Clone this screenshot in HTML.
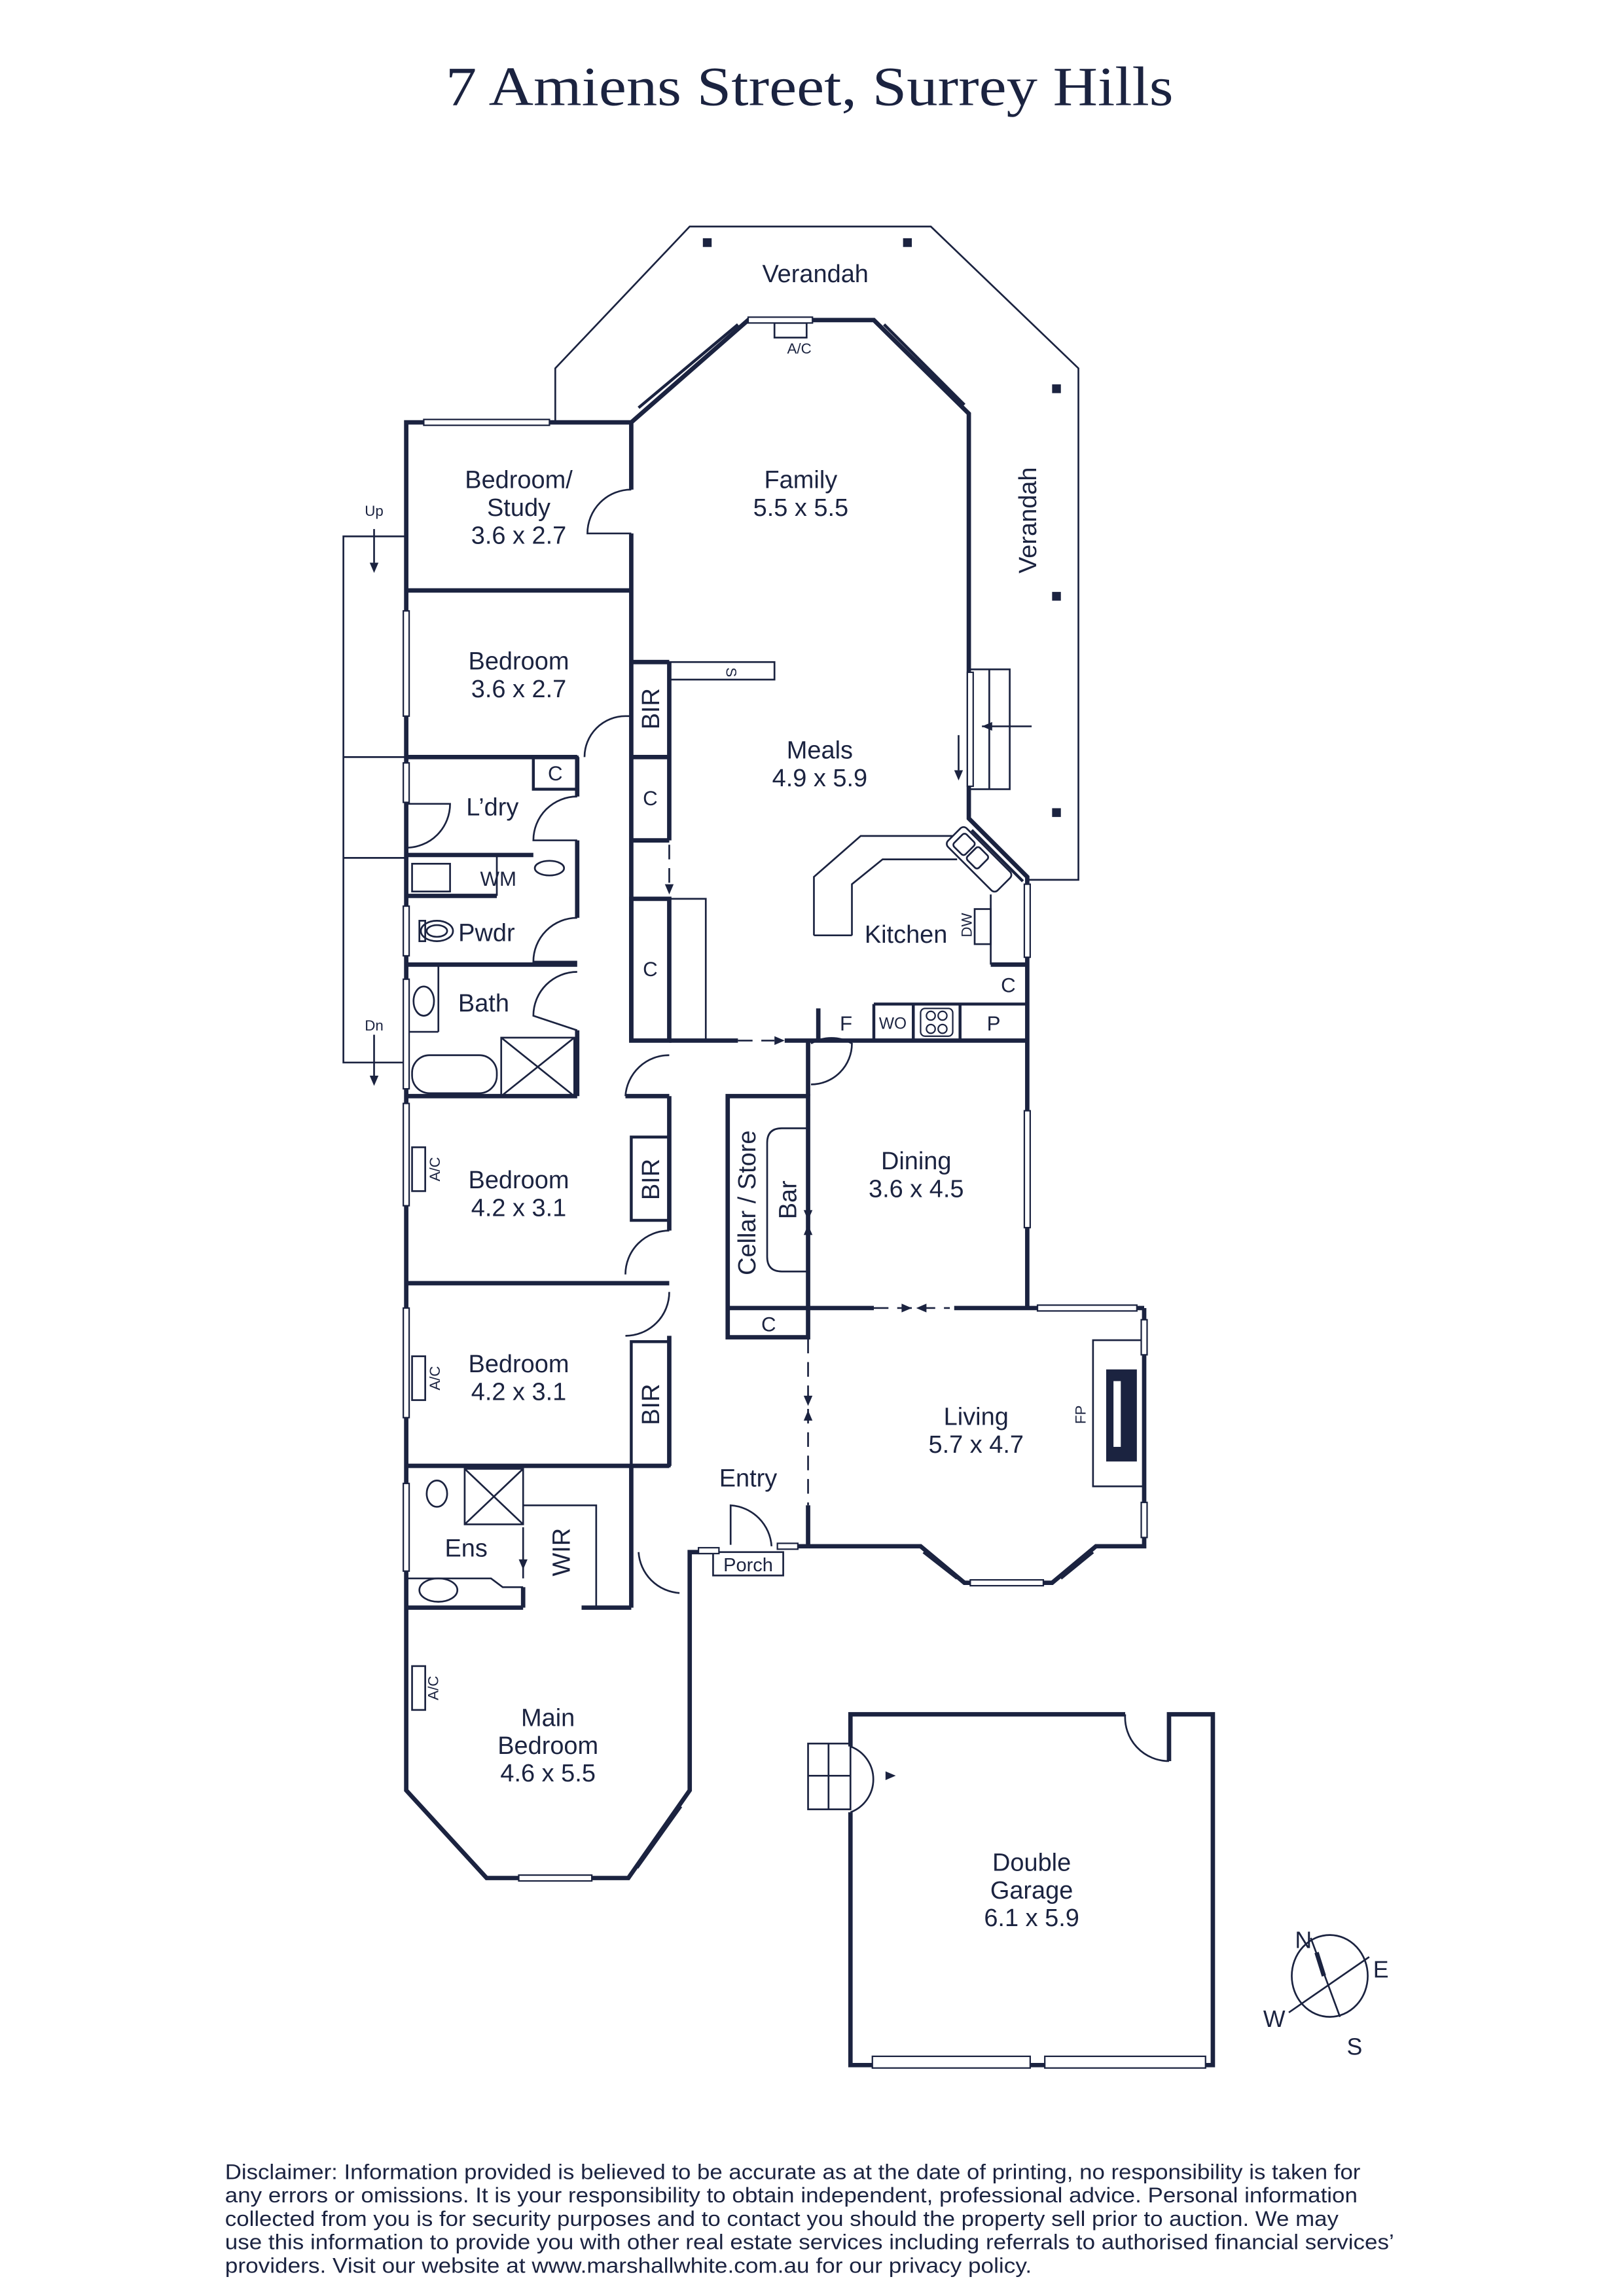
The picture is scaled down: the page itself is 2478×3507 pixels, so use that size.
<!DOCTYPE html>
<html><head><meta charset="utf-8"><style>
html,body{margin:0;padding:0;background:#fff;}
svg{display:block;}
text{font-family:"Liberation Sans",sans-serif;fill:#1b2340;}
</style></head><body>
<svg width="2478" height="3507" viewBox="0 0 1110 1571" preserveAspectRatio="none" xmlns="http://www.w3.org/2000/svg">
<rect width="1110" height="1571" fill="#fff"/>
<text x="554" y="72" font-family="Liberation Serif,serif" style="font-family:'Liberation Serif',serif" font-size="38" text-anchor="middle" textLength="498" lengthAdjust="spacingAndGlyphs">7 Amiens Street, Surrey Hills</text>

<g stroke="#1b2340" fill="none" stroke-width="1.2">
<!-- verandah -->
<polyline points="380,288 380,252 472,155 637,155 738,252 738,602 703,602"/>
<!-- stairs -->
<polyline points="278,367 235,367 235,727 278,727"/>
<line x1="235" y1="518" x2="278" y2="518"/>
<line x1="235" y1="587" x2="278" y2="587"/>
<line x1="256" y1="362" x2="256" y2="385"/>
<line x1="256" y1="708" x2="256" y2="736"/>
<!-- S -->
<rect x="458" y="453" width="72" height="12"/>
<!-- thin C side -->
<polyline points="458,615 483,615 483,712"/>
<!-- kitchen bench -->
<polyline points="557,640 557,600 589,572 660,572"/>
<polyline points="583,640 583,605 604,588 655,588"/>
<line x1="557" y1="640" x2="583" y2="640"/>
<rect x="667" y="622" width="11" height="24"/>
<line x1="678" y1="612" x2="678" y2="660"/>
<!-- verandah step by meals -->
<rect x="663" y="458" width="28" height="82"/>
<line x1="677" y1="458" x2="677" y2="540"/>
<line x1="672" y1="497" x2="706" y2="497"/>
<line x1="656" y1="503" x2="656" y2="527"/>
<!-- AC top -->
<rect x="530" y="221" width="22" height="10"/>
<!-- L'dry -->
<rect x="282" y="591" width="26" height="19"/>
<line x1="340" y1="585" x2="340" y2="613"/>
<ellipse cx="376" cy="594" rx="10" ry="5"/>
<ellipse cx="299" cy="637" rx="11" ry="7"/>
<ellipse cx="299" cy="637" rx="7" ry="4"/>
<rect x="287" y="630" width="4" height="14"/>
<ellipse cx="290" cy="685" rx="7" ry="10"/>
<line x1="300" y1="660" x2="300" y2="706"/>
<line x1="278" y1="706" x2="300" y2="706"/>
<rect x="282" y="722" width="58" height="26" rx="12"/>
<rect x="343" y="710" width="50" height="40"/>
<line x1="343" y1="710" x2="393" y2="750"/><line x1="393" y1="710" x2="343" y2="750"/>
<!-- Ens -->
<rect x="318" y="1005" width="40" height="38"/>
<line x1="318" y1="1005" x2="358" y2="1043"/><line x1="358" y1="1005" x2="318" y2="1043"/>
<ellipse cx="299" cy="1022" rx="7" ry="9"/>
<ellipse cx="300" cy="1088" rx="13" ry="8"/>
<polyline points="278,1080 336,1080 344,1086 358,1086"/>
<polyline points="358,1030 408,1030 408,1100"/>
<line x1="358" y1="1045" x2="358" y2="1080"/>
<!-- bar -->
<path d="M553,772 L535,772 Q525,772 525,782 L525,860 Q525,870 535,870 L553,870"/>
<!-- AC boxes -->
<rect x="282" y="785" width="9" height="30"/>
<rect x="282" y="928" width="9" height="30"/>
<rect x="282" y="1140" width="9" height="30"/>
<!-- FP -->
<rect x="748" y="917" width="35" height="100"/>
<!-- porch -->
<rect x="488" y="1062" width="48" height="16"/>
<!-- garage step -->
<rect x="553" y="1193" width="29" height="45"/>
<line x1="567" y1="1193" x2="567" y2="1238"/>
<line x1="553" y1="1215" x2="582" y2="1215"/>
<!-- compass -->
<ellipse cx="910" cy="1352" rx="26" ry="28"/>
<line x1="917" y1="1380" x2="897" y2="1326"/>
<line x1="882" y1="1377" x2="937" y2="1339"/>
<!-- door arcs -->
<path d="M432,335 A30,30 0 0 0 402,365 L432,365"/>
<path d="M400,518 A28,28 0 0 1 428,490 L432,490"/>
<path d="M278,580 A30,30 0 0 0 308,550 L278,550"/>
<path d="M395,545 A30,30 0 0 0 365,575 L395,575"/>
<path d="M395,628 A30,30 0 0 0 365,658 L395,658"/>
<path d="M395,665 A30,30 0 0 0 365,695 L395,705"/>
<path d="M458,722 A30,30 0 0 0 428,750"/>
<path d="M458,842 A30,30 0 0 0 428,872"/>
<path d="M458,884 A30,30 0 0 1 428,914"/>
<path d="M437,1062 A30,30 0 0 0 465,1090"/>
<path d="M500,1057 L500,1030 A30,30 0 0 1 528,1058"/>
<path d="M555,714 A28,28 0 0 1 583,714 L583,714 A28,28 0 0 1 555,742"/>
<path d="M770,1173 A30,30 0 0 0 800,1205"/>
<path d="M582,1195 A24,24 0 0 1 582,1240"/>
</g>

<g stroke="#1b2340" fill="none" stroke-width="3" stroke-linejoin="miter">
<polyline points="432,289 278,289 278,1225 333,1285 430,1285 472,1225 472,1062 488,1062"/>
<polyline points="432,289 512,219 598,219 663,283 663,560 703,600 703,895"/>
<polyline points="432,289 432,335"/><line x1="432" y1="365" x2="432" y2="712"/>
<line x1="278" y1="404" x2="432" y2="404"/>
<line x1="278" y1="518" x2="395" y2="518"/>
<line x1="458" y1="453" x2="458" y2="575"/>
<line x1="432" y1="453" x2="458" y2="453"/>
<line x1="432" y1="518" x2="458" y2="518"/>
<line x1="432" y1="575" x2="458" y2="575"/>
<rect x="365" y="518" width="30" height="22" stroke-width="2"/>
<line x1="395" y1="518" x2="395" y2="545"/>
<line x1="395" y1="575" x2="395" y2="628"/>
<line x1="395" y1="705" x2="395" y2="750"/>
<line x1="278" y1="585" x2="365" y2="585"/>
<line x1="278" y1="613" x2="340" y2="613"/>
<line x1="278" y1="660" x2="395" y2="660"/>
<rect x="432" y="615" width="26" height="97"/>
<line x1="458" y1="712" x2="505" y2="712"/>
<line x1="537" y1="712" x2="703" y2="712"/>
<line x1="560" y1="690" x2="560" y2="712"/>
<line x1="598" y1="687" x2="598" y2="712" stroke-width="2"/>
<line x1="598" y1="687" x2="703" y2="687" stroke-width="2"/>
<line x1="625" y1="687" x2="625" y2="712" stroke-width="2"/>
<line x1="657" y1="687" x2="657" y2="712" stroke-width="2"/>
<line x1="678" y1="660" x2="703" y2="660"/>
<line x1="278" y1="750" x2="395" y2="750"/>
<line x1="428" y1="750" x2="458" y2="750"/>
<line x1="458" y1="750" x2="458" y2="842"/>
<rect x="432" y="778" width="26" height="57" stroke-width="2"/>
<line x1="278" y1="878" x2="458" y2="878"/>
<line x1="458" y1="914" x2="458" y2="1003"/>
<rect x="432" y="918" width="26" height="85" stroke-width="2"/>
<line x1="278" y1="1003" x2="458" y2="1003"/>
<line x1="432" y1="1003" x2="432" y2="1100"/>
<line x1="278" y1="1100" x2="358" y2="1100"/>
<line x1="358" y1="1086" x2="358" y2="1100"/>
<line x1="398" y1="1100" x2="432" y2="1100"/>
<rect x="498" y="750" width="55" height="165"/>
<line x1="498" y1="895" x2="553" y2="895"/>
<line x1="553" y1="712" x2="553" y2="750"/>
<line x1="553" y1="1030" x2="553" y2="1058"/>
<line x1="553" y1="895" x2="598" y2="895"/>
<line x1="653" y1="895" x2="783" y2="895"/>
<polyline points="783,895 783,1058 750,1058 720,1083 660,1083 630,1058 553,1058"/>
<line x1="536" y1="1058" x2="553" y2="1058"/>
<polyline points="770,1173 582,1173 582,1195"/>
<polyline points="800,1205 800,1173 830,1173 830,1413 582,1413 582,1240"/>
</g>
<!-- FP black -->
<rect x="757" y="937" width="21" height="63" fill="#1b2340"/>
<rect x="762" y="945" width="5" height="45" fill="#fff"/>
<line x1="901" y1="1336" x2="906" y2="1352" stroke="#1b2340" stroke-width="3"/>
<!-- windows -->
<g fill="#fff" stroke="#1b2340" stroke-width="1">
<rect x="290" y="287" width="86" height="4"/>
<rect x="512" y="217" width="44" height="4"/>
<rect x="276" y="418" width="4" height="72"/>
<rect x="276" y="522" width="4" height="27"/>
<rect x="276" y="620" width="4" height="34"/>
<rect x="276" y="670" width="4" height="75"/>
<rect x="276" y="755" width="4" height="70"/>
<rect x="276" y="895" width="4" height="75"/>
<rect x="276" y="1015" width="4" height="60"/>
<rect x="701" y="605" width="4" height="50"/>
<rect x="701" y="760" width="4" height="80"/>
<rect x="710" y="893" width="68" height="4"/>
<rect x="781" y="903" width="4" height="24"/>
<rect x="781" y="1028" width="4" height="24"/>
<rect x="664" y="1081" width="50" height="4"/>
<rect x="355" y="1283" width="50" height="4"/>
<rect x="597" y="1407" width="108" height="8"/>
<rect x="715" y="1407" width="110" height="8"/>
<rect x="478" y="1059" width="14" height="4"/>
<rect x="532" y="1056" width="14" height="4"/>
<rect x="662" y="460" width="4" height="78"/>
</g>
<g stroke="#1b2340" stroke-width="2">
<line x1="437" y1="279" x2="505" y2="222"/>
<line x1="605" y1="222" x2="660" y2="277"/>
<line x1="665" y1="568" x2="700" y2="603"/>
<line x1="287" y1="1235" x2="327" y2="1279"/>
<line x1="436" y1="1278" x2="466" y2="1236"/>
<line x1="632" y1="1062" x2="655" y2="1080"/>
<line x1="726" y1="1080" x2="748" y2="1062"/>
</g>
<rect x="481" y="163" width="6" height="6" fill="#1b2340"/>
<rect x="618" y="163" width="6" height="6" fill="#1b2340"/>
<rect x="720" y="263" width="6" height="6" fill="#1b2340"/>
<rect x="720" y="405" width="6" height="6" fill="#1b2340"/>
<rect x="720" y="553" width="6" height="6" fill="#1b2340"/>
<!-- sink -->
<g transform="translate(670,588) rotate(45)" stroke="#1b2340" fill="#fff" stroke-width="1.2">
<rect x="-24" y="-9" width="48" height="18" rx="3"/>
<rect x="-20" y="-6" width="11" height="12" rx="2"/><rect x="-7" y="-6" width="11" height="12" rx="2"/>
</g>
<!-- cooktop -->
<rect x="630" y="690" width="22" height="19" rx="3" fill="none" stroke="#1b2340"/>
<g fill="none" stroke="#1b2340"><circle cx="637" cy="695" r="3"/><circle cx="645" cy="695" r="3"/><circle cx="637" cy="704" r="3"/><circle cx="645" cy="704" r="3"/></g>
<!-- arrows -->
<g stroke="#1b2340" stroke-width="1.2" stroke-dasharray="10,6">
<line x1="505" y1="712" x2="530" y2="712"/>
<line x1="598" y1="895" x2="650" y2="895"/>
<line x1="553" y1="750" x2="553" y2="770"/>
<line x1="553" y1="900" x2="553" y2="1030"/>
<line x1="458" y1="578" x2="458" y2="608"/>
</g>
<g fill="#1b2340">
<polygon points="530,709 537,712 530,715"/>
<polygon points="617,892 624,895 617,898"/><polygon points="634,892 627,895 634,898"/>
<polygon points="550,955 553,962 556,955"/><polygon points="550,972 553,965 556,972"/>
<polygon points="550,828 553,835 556,828"/><polygon points="550,845 553,838 556,845"/>
<polygon points="455,605 458,612 461,605"/>
<polygon points="253,385 256,392 259,385"/>
<polygon points="253,736 256,743 259,736"/>
<polygon points="653,527 656,534 659,527"/>
<polygon points="679,494 672,497 679,500"/>
<polygon points="355,1067 358,1074 361,1067"/>
<polygon points="606,1212 613,1215 606,1218"/>
</g>

<!-- labels -->
<g font-size="17" text-anchor="middle">
<text x="558" y="193">Verandah</text>
<text transform="translate(709,356) rotate(-90)">Verandah</text>
<text x="355" y="334">Bedroom/</text><text x="355" y="353">Study</text><text x="355" y="372">3.6 x 2.7</text>
<text x="548" y="334">Family</text><text x="548" y="353">5.5 x 5.5</text>
<text x="355" y="458">Bedroom</text><text x="355" y="477">3.6 x 2.7</text>
<text x="561" y="519">Meals</text><text x="561" y="538">4.9 x 5.9</text>
<text x="337" y="558">L’dry</text>
<text x="333" y="644">Pwdr</text>
<text x="331" y="692">Bath</text>
<text x="620" y="645">Kitchen</text>
<text x="627" y="800">Dining</text><text x="627" y="819">3.6 x 4.5</text>
<text x="355" y="813">Bedroom</text><text x="355" y="832">4.2 x 3.1</text>
<text x="355" y="939">Bedroom</text><text x="355" y="958">4.2 x 3.1</text>
<text x="668" y="975">Living</text><text x="668" y="994">5.7 x 4.7</text>
<text x="512" y="1017">Entry</text>
<text x="319" y="1065">Ens</text>
<text x="375" y="1181">Main</text><text x="375" y="1200">Bedroom</text><text x="375" y="1219">4.6 x 5.5</text>
<text x="706" y="1280">Double</text><text x="706" y="1299">Garage</text><text x="706" y="1318">6.1 x 5.9</text>
<text transform="translate(451,485) rotate(-90)">BIR</text>
<text transform="translate(451,807) rotate(-90)">BIR</text>
<text transform="translate(451,961) rotate(-90)">BIR</text>
<text transform="translate(390,1062) rotate(-90)">WIR</text>
<text transform="translate(517,823) rotate(-90)">Cellar / Store</text>
<text transform="translate(545,821) rotate(-90)">Bar</text>
<text x="445" y="551" font-size="14">C</text>
<text x="445" y="668" font-size="14">C</text>
<text x="380" y="534" font-size="14">C</text>
<text x="526" y="911" font-size="14">C</text>
<text x="690" y="679" font-size="14">C</text>
<text x="680" y="705" font-size="14">P</text>
<text x="579" y="705" font-size="14">F</text>
<text x="611" y="704" font-size="11">WO</text>
<text x="341" y="606" font-size="14">WM</text>
<text x="512" y="1075" font-size="13">Porch</text>
<text x="256" y="353" font-size="10">Up</text>
<text x="256" y="705" font-size="10">Dn</text>
<text x="547" y="242" font-size="10">A/C</text>
<text transform="translate(301,800) rotate(-90)" font-size="10">A/C</text>
<text transform="translate(301,943) rotate(-90)" font-size="10">A/C</text>
<text transform="translate(300,1155) rotate(-90)" font-size="10">A/C</text>
<text transform="translate(743,968) rotate(-90)" font-size="10">FP</text>
<text transform="translate(665,633) rotate(-90)" font-size="10">DW</text>
<text transform="translate(497,460) rotate(90)" font-size="10">S</text>
<text x="892" y="1333" font-size="16">N</text>
<text x="945" y="1353" font-size="16">E</text>
<text x="872" y="1387" font-size="16">W</text>
<text x="927" y="1406" font-size="16">S</text>
</g>
<g font-size="14.5">
<text x="154" y="1491" textLength="777" lengthAdjust="spacingAndGlyphs">Disclaimer: Information provided is believed to be accurate as at the date of printing, no responsibility is taken for</text>
<text x="154" y="1507" textLength="775" lengthAdjust="spacingAndGlyphs">any errors or omissions. It is your responsibility to obtain independent, professional advice. Personal information</text>
<text x="154" y="1523" textLength="762" lengthAdjust="spacingAndGlyphs">collected from you is for security purposes and to contact you should the property sell prior to auction. We may</text>
<text x="154" y="1539" textLength="800" lengthAdjust="spacingAndGlyphs">use this information to provide you with other real estate services including referrals to authorised financial services’</text>
<text x="154" y="1555" textLength="552" lengthAdjust="spacingAndGlyphs">providers. Visit our website at www.marshallwhite.com.au for our privacy policy.</text>
</g>
</svg>
</body></html>
